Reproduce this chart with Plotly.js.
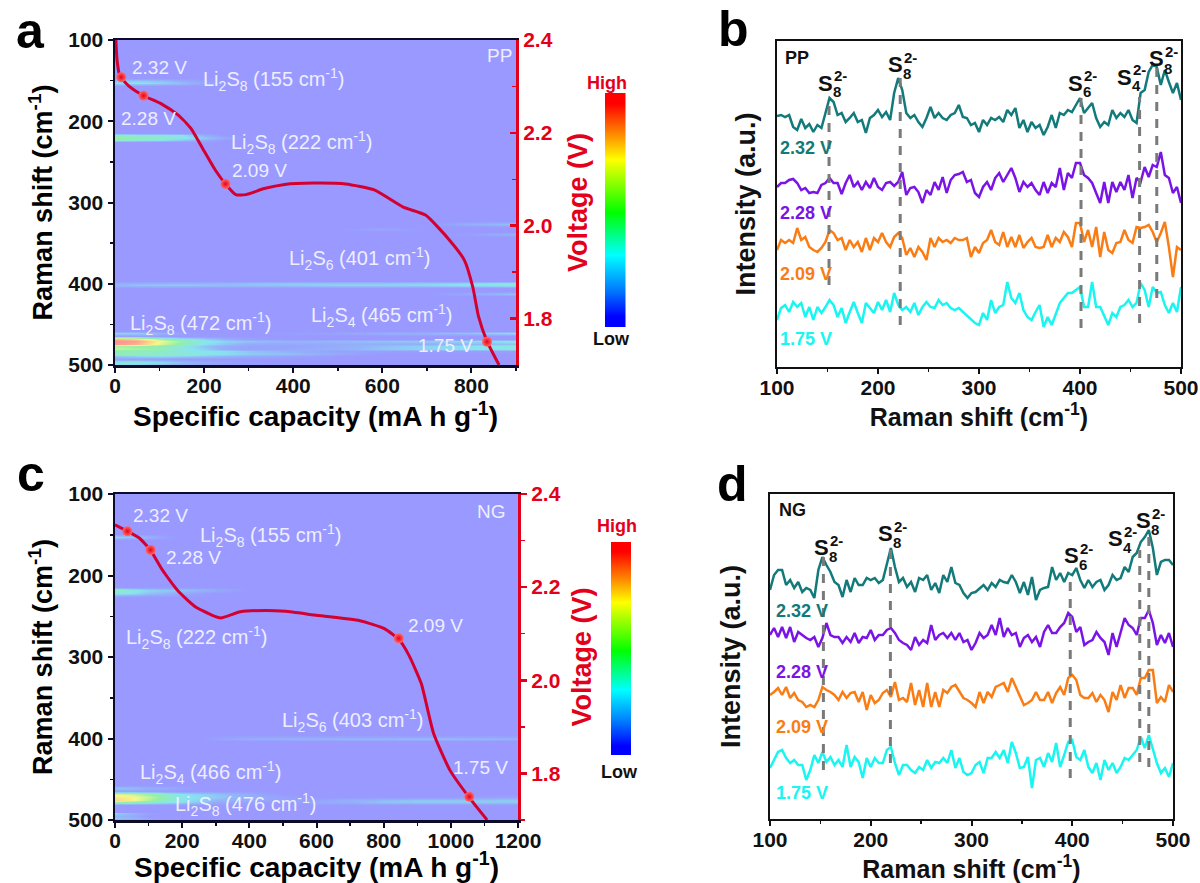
<!DOCTYPE html>
<html><head><meta charset="utf-8">
<script src="https://cdn.plot.ly/plotly-3.0.1.min.js"></script>
<style>html,body{margin:0;padding:0;background:#fff}#chart{width:1200px;height:883px}</style>
</head><body><div id="chart"></div>
<script>
// ---------- panel a / c : discharge curves (capacity mA h/g, voltage V)
const capCurveA=[2,4.6,11,32,64,105,142,170,197,225,248,271,294,335,381,445,518,582,647,697,748,784,803,816,835,862];
const voltCurveA=[2.4,2.357,2.322,2.30,2.28,2.262,2.238,2.21,2.166,2.12,2.09,2.067,2.067,2.08,2.089,2.092,2.09,2.077,2.04,2.023,1.972,1.926,1.868,1.804,1.751,1.70];
const capDotsA=[14,64,248,835];
const voltDots=[2.32,2.28,2.09,1.75];
const capCurveC=[0,37,73,106,141,190,239,288,315,373,447,508,594,729,802,845,875,912,949,998,1055,1108];
const voltCurveC=[2.334,2.32,2.305,2.279,2.237,2.19,2.158,2.14,2.134,2.147,2.15,2.148,2.14,2.128,2.111,2.088,2.054,1.993,1.885,1.806,1.748,1.70];
const capDotsC=[37,106,845,1055];

// ---------- panel a / c : contour maps (normalised intensity)
const capGridA=[0,50,100,150,200,250,300,400,500,600,700,800,900];
const shiftRowsA=[100,147,150,153,156,214,217,220,223,226,323,326.5,330,333,336,339,342,396,399,402,405,409,412,415,458,461,464,468,471,474,477,480,483,486,489,492,496,500];
const zA=[
[0,0,0,0,0,0,0,0,0,0,0,0,0],
[0,0,0,0,0,0,0,0,0,0,0,0,0],
[.2,.25,.2,.12,.05,0,0,0,0,0,0,0,0],
[.28,.3,.25,.18,.08,.02,0,0,0,0,0,0,0],
[0,0,0,0,0,0,0,0,0,0,0,0,0],
[0,0,0,0,0,0,0,0,0,0,0,0,0],
[.45,.35,.35,.3,.12,0,0,0,0,0,0,0,0],
[.5,.45,.4,.33,.22,.08,0,0,0,0,0,0,0],
[.42,.35,.3,.2,.1,0,0,0,0,0,0,0,0],
[0,0,0,0,0,0,0,0,0,0,0,0,0],
[0,0,0,0,0,0,0,0,0,0,0,0,0],
[0,0,0,0,0,0,0,0,0,0,0,.12,.2],
[0,0,0,0,0,0,0,0,0,0,0,0,0],
[0,0,0,0,0,0,0,0,0,.08,0,0,0],
[0,0,0,0,0,0,0,0,0,0,0,0,0],
[0,0,0,0,0,0,0,0,0,0,0,.04,.15],
[0,0,0,0,0,0,0,0,0,0,0,0,0],
[0,0,0,0,0,0,0,0,0,0,0,0,0],
[.1,.12,.13,.14,.14,.15,.18,.2,.2,.2,.22,.25,.32],
[.15,.2,.22,.22,.2,.18,.2,.22,.25,.25,.27,.32,.38],
[0,0,0,0,0,0,0,0,0,0,0,0,0],
[0,0,0,0,0,0,0,0,0,0,0,0,0],
[0,0,0,0,0,0,0,0,0,0,0,.1,.2],
[0,0,0,0,0,0,0,0,0,0,0,0,0],
[0,0,0,0,0,0,0,0,0,0,0,0,0],
[.25,.25,.15,.05,0,0,0,.03,.06,.12,.15,.2,.3],
[.05,.05,.03,0,0,0,0,0,0,0,0,0,0],
[.9,.8,.55,.35,.25,.12,.05,0,0,0,0,0,0],
[1,.95,.7,.5,.35,.25,.2,.15,.17,.2,.22,.28,.32],
[.98,.9,.65,.45,.3,.2,.1,.08,.1,.12,.12,.15,.2],
[.55,.5,.45,.35,.2,.1,.05,.05,.1,.18,.25,.3,.35],
[.6,.55,.5,.35,.25,.1,.05,.08,.12,.2,.25,.3,.35],
[.4,.4,.38,.33,.3,.28,.2,.12,.05,.05,.03,.03,.03],
[.48,.45,.42,.38,.33,.28,.22,.18,.08,0,0,0,0],
[.2,.25,.28,.25,.2,.15,.1,.05,0,0,0,0,0],
[.05,.05,.03,0,0,0,0,0,0,0,0,0,0],
[.35,.35,.28,.18,.1,.05,.02,0,0,0,0,0,0],
[.25,.22,.15,.1,.05,0,0,0,0,0,0,0,0]];
const capGridC=[0,50,100,150,200,250,300,400,500,600,700,800,900,1000,1100,1200];
const shiftRowsC=[100,149,153,157,214,218,222,226,396,400,403,457,461,465,468,472,475,478,482,490,492,495,498,500];
const zC=[
[0,0,0,0,0,0,0,0,0,0,0,0,0,0,0,0],
[0,0,0,0,0,0,0,0,0,0,0,0,0,0,0,0],
[.25,.22,.15,.05,0,0,0,0,0,0,0,0,0,0,0,0],
[0,0,0,0,0,0,0,0,0,0,0,0,0,0,0,0],
[0,0,0,0,0,0,0,0,0,0,0,0,0,0,0,0],
[.45,.35,.25,.22,.2,.15,.1,0,0,0,0,0,0,0,0,0],
[.35,.3,.2,.15,.1,.05,0,0,0,0,0,0,0,0,0,0],
[0,0,0,0,0,0,0,0,0,0,0,0,0,0,0,0],
[0,0,0,0,0,0,0,0,0,0,0,0,0,0,0,0],
[0,0,0,0,0,0,.05,.12,.14,.15,.16,.16,.18,.17,.16,.15],
[0,0,0,0,0,0,0,0,0,0,0,0,0,0,0,0],
[0,0,0,0,0,0,0,0,0,0,0,0,0,0,0,0],
[.2,.18,.12,.1,.05,0,0,0,0,0,0,0,0,0,0,0],
[.05,.05,.03,.02,0,0,0,0,0,0,0,0,0,0,0,0],
[.65,.6,.5,.4,.3,.25,.2,.1,0,0,0,0,0,0,0,0],
[.75,.72,.6,.45,.32,.28,.22,.12,.05,0,0,0,0,0,.05,.05],
[.8,.72,.55,.4,.32,.25,.15,.1,.05,.05,.12,.16,.2,.2,.2,.22],
[.5,.45,.4,.33,.28,.2,.1,.05,0,.08,.12,.2,.22,.22,.22,.22],
[0,0,0,0,0,0,0,0,0,0,0,0,0,0,0,0],
[0,0,0,0,0,0,0,0,0,0,0,0,0,0,0,0],
[.25,.15,.05,0,0,0,0,0,0,0,0,0,0,0,0,0],
[.15,.1,0,0,0,0,0,0,0,0,0,0,0,0,0,0],
[.2,.15,.05,0,0,0,0,0,0,0,0,0,0,0,0,0],
[0,0,0,0,0,0,0,0,0,0,0,0,0,0,0,0]];

// ---------- panel b / d : Raman spectra (arbitrary intensity, common x)
const ramanX=[100,104,108,112,116,120,124,128,132,136,140,144,148,152,156,160,164,168,172,176,180,184,188,192,196,200,204,208,212,216,220,224,228,232,236,240,244,248,252,256,260,264,268,272,276,280,284,288,292,296,300,304,308,312,316,320,324,328,332,336,340,344,348,352,356,360,364,368,372,376,380,384,388,392,396,400,404,408,412,416,420,424,428,432,436,440,444,448,452,456,460,464,468,472,476,480,484,488,492,496,500];
const ppV232=[251,252,250,252,240,237,248,239,243,235,242,239,254,269,265,252,254,245,249,254,245,247,234,249,252,257,250,255,247,274,289,277,254,249,252,245,240,249,260,249,254,249,247,252,254,262,250,249,242,244,235,247,242,249,247,250,245,257,252,259,239,247,235,245,239,242,232,240,252,239,254,252,257,255,262,269,254,259,264,249,240,245,242,257,249,254,250,257,247,244,274,277,295,302,300,282,297,285,274,284,267];
const ppV228=[180,184,184,187,188,184,177,179,174,175,174,182,184,189,184,184,173,184,192,180,185,177,185,179,189,180,177,184,185,181,185,195,172,179,180,175,164,177,172,185,177,190,174,187,192,193,195,185,187,174,170,180,185,177,189,194,185,192,199,189,175,185,180,184,177,172,185,174,184,180,199,177,194,189,204,204,192,189,184,174,164,185,164,185,175,185,177,192,169,189,185,200,190,202,200,215,192,189,174,180,164];
const ppV209=[117,127,124,127,124,139,127,130,120,117,115,119,125,137,134,127,129,117,127,120,125,115,129,117,129,125,134,125,120,130,134,129,112,119,110,120,115,107,129,120,129,125,127,124,129,127,127,129,110,120,114,124,127,137,125,122,135,120,130,120,132,119,125,129,120,119,120,132,120,129,125,135,130,120,144,144,125,137,120,140,110,135,117,114,124,125,137,127,124,140,139,140,142,135,125,134,145,120,90,120,117];
const ppV175=[47,59,62,55,65,60,64,50,60,47,60,54,60,67,62,50,59,44,55,65,54,44,64,59,54,65,57,67,55,74,62,57,60,55,64,52,60,65,60,59,67,62,64,59,57,59,55,52,47,44,42,54,47,67,54,60,62,85,69,64,74,57,50,47,55,62,40,50,42,54,64,69,74,74,77,80,60,60,85,60,60,50,42,54,50,60,62,67,60,64,84,77,60,80,74,75,62,54,64,55,80];
const ngV232=[229,244,249,249,234,239,231,237,227,231,229,221,249,262,254,247,237,234,222,239,227,241,234,234,241,239,241,236,239,256,271,252,237,241,232,237,227,241,239,244,229,236,226,244,237,252,236,234,226,221,226,227,231,234,229,236,232,239,237,236,244,237,226,237,224,242,219,229,231,232,252,239,246,237,246,244,251,239,231,239,232,237,239,229,234,244,239,241,252,247,262,266,277,282,289,271,244,257,259,259,254];
const ngV228=[184,191,182,192,181,192,177,187,184,181,179,182,172,181,196,184,182,182,176,182,177,186,176,182,181,189,179,184,184,189,191,186,179,176,174,169,182,174,179,176,194,179,184,186,181,186,179,186,177,179,169,176,186,181,184,194,184,201,182,191,184,186,172,181,184,177,182,172,187,194,186,186,192,196,206,202,187,192,174,177,179,187,181,177,164,186,172,186,201,194,191,184,201,201,209,196,174,184,176,186,172];
const ngV209=[124,127,131,124,132,121,126,119,117,112,114,112,119,132,129,127,124,119,127,121,126,127,117,127,109,124,116,119,126,129,122,137,119,121,117,136,114,129,112,136,112,127,112,129,126,132,134,127,121,119,116,112,127,116,127,122,132,134,136,127,141,132,122,114,116,119,127,119,119,127,116,126,132,124,141,144,139,124,121,121,126,117,124,119,107,127,119,134,121,131,131,124,141,141,149,149,116,122,117,134,127];
const ngV175=[51,59,67,69,61,56,59,54,54,39,49,64,56,67,57,62,54,59,52,74,52,62,57,41,61,52,61,56,56,69,72,56,44,54,54,49,46,52,49,59,51,57,56,61,56,69,51,61,47,44,46,54,57,46,61,61,67,61,69,56,77,66,51,52,62,31,59,61,52,66,57,76,52,64,77,79,62,59,69,52,46,56,39,59,49,56,46,52,61,59,64,69,82,71,84,71,56,46,51,42,56];
const voltLabels=["2.32 V","2.28 V","2.09 V","1.75 V"];
const traceColors=["#127a7a","#7a14e6","#f97d14","#19f5f0"];
// dashed peak guides: position and intensity span
const guideB={x:[151.5,222,401,459,476],lo:[82,42,39,44,69],hi:[267,289,270,270,304]};
const guideD={x:[153,219.5,398,467,476],lo:[49,56,41,57,52],hi:[266,272,246,269,289]};
// colour-bar levels
const barLevels=[[0],[.1],[.2],[.3],[.4],[.5],[.6],[.7],[.8],[.9],[1]];

// ---------- layout helpers
const W=1200,H=883;
const dx=(a,b)=>[a/W,b/W], dy=(t,b)=>[1-b/H,1-t/H];
const px=x=>x/W, py=y=>1-y/H;
const FF="Liberation Sans, Arial, sans-serif";
const RED="#e3001b", AX="#0c0c2a";
const mapScale=[[0,"#9999ff"],[.15,"#93b5f8"],[.3,"#88e3f0"],[.5,"#93f0a5"],[.7,"#f7f78a"],[.85,"#ffc48c"],[1,"#ff8f8f"]];
const barScale=[[0,"#0000ff"],[.13,"#0080ff"],[.29,"#00ffff"],[.49,"#00ff00"],[.74,"#ffff00"],[.87,"#ff8000"],[1,"#ff0000"]];
const tfont={family:FF,size:21,color:"#111",weight:700};
const ann=[];
function T(x,y,text,o={}){ann.push(Object.assign({xref:"paper",yref:"paper",x:px(x),y:py(y),text,showarrow:false,xanchor:"center",yanchor:"middle",font:{family:FF,size:o.size||19,color:o.color||"#eeeeff",weight:o.weight||400}},o.extra||{}));}
function L(n,w){return `Li<sub>2</sub>S<sub>${n}</sub> (${w} cm<sup>-1</sup>)`;}
const LI=20;
function S(cx,y,n){
  T(cx-7,y,"S",{size:22,color:"#111",weight:700});
  T(cx+5,y+9,String(n),{size:15,color:"#111",weight:700});
  T(cx+8,y-7,"2-",{size:15,color:"#111",weight:700});
}
// panel a labels
[[159,67,"2.32 V"],[148,119,"2.28 V"],[259,170,"2.09 V"],[445,345,"1.75 V"],[499,55,"PP"]].forEach(a=>T(a[0],a[1],a[2]));
[[273,80,8,155],[301,142,8,222],[359,258,6,401],[381,316,4,465],[200,323,8,472]].forEach(a=>T(a[0],a[1],L(a[2],a[3]),{size:LI}));
// panel c labels
[[160,515,"2.32 V"],[193,557,"2.28 V"],[435,625,"2.09 V"],[480,767,"1.75 V"],[492,511,"NG"]].forEach(a=>T(a[0],a[1],a[2]));
[[270,535,8,155],[196,637,8,222],[352,720,6,403],[210,772,4,466],[246,804,8,476]].forEach(a=>T(a[0],a[1],L(a[2],a[3]),{size:LI}));
// panel letters
[[30,31,"a"],[733,29,"b"],[31,474,"c"],[732,484,"d"]].forEach(a=>T(a[0],a[1],a[2],{size:50,color:"#000",weight:700}));
// panels b,d labels
T(797,58,"PP",{size:18,color:"#111",weight:700});T(792,510,"NG",{size:18,color:"#111",weight:700});
[[832,83,8],[902,65,8],[1082,83,6],[1131,77,4],[1163,59,8]].forEach(a=>S(a[0],a[1],a[2]));
[[828,547,8],[892,533,8],[1078,555,6],[1122,538,4],[1150,520,8]].forEach(a=>S(a[0],a[1],a[2]));
[148,213,274,339].forEach((y,i)=>T(806,y,voltLabels[i],{size:18,color:traceColors[i],weight:700}));
[611,672,727,793].forEach((y,i)=>T(802,y,voltLabels[i],{size:18,color:traceColors[i],weight:700}));
// colour-bar labels
T(607,83,"High",{size:18,color:RED,weight:700});T(611,339,"Low",{size:18,color:"#111",weight:700});
T(617,526,"High",{size:18,color:RED,weight:700});T(619,772,"Low",{size:18,color:"#111",weight:700});

function mapX(dom,rng,title,ya){return {domain:dom,anchor:ya,range:rng,dtick:200,tick0:0,ticks:"outside",ticklen:5,tickwidth:2,tickcolor:AX,ticklabelstandoff:-5,showline:true,linewidth:2.5,linecolor:AX,mirror:true,showgrid:false,zeroline:false,tickfont:tfont,minor:{ticks:"outside",dtick:100,ticklen:3,tickwidth:1.5,tickcolor:AX},
  title:{text:title,standoff:0,font:{family:FF,size:28,color:"#000",weight:700}}};}
function mapY(dom,xa){return {domain:dom,anchor:xa,range:[500,100],dtick:100,tick0:100,ticks:"outside",ticklen:5,tickwidth:2,tickcolor:AX,showline:true,linewidth:2.5,linecolor:AX,showgrid:false,zeroline:false,tickfont:tfont,minor:{ticks:"outside",dtick:50,ticklen:3,tickwidth:1.5,tickcolor:AX},
  title:{text:"Raman shift (cm<sup>-1</sup>)",standoff:8,font:{family:FF,size:27,color:"#000",weight:700}}};}
function voltY(ov,xa,ticks,so){return {overlaying:ov,anchor:xa,side:"right",range:[1.7,2.4],tick0:1.8,dtick:.2,tickformat:".1f",ticks,ticklen:6,tickwidth:2.5,tickcolor:RED,showline:true,linewidth:3,linecolor:RED,showgrid:false,zeroline:false,tickfont:{family:FF,size:21,color:RED,weight:700},minor:{ticks,dtick:.1,ticklen:4,tickwidth:1.5,tickcolor:RED},
  title:{text:"Voltage (V)",standoff:so,font:{family:FF,size:27,color:RED,weight:700}}};}
function specX(dom,ya){return {domain:dom,anchor:ya,range:[100,500],dtick:100,tick0:100,ticks:"outside",ticklen:5,tickwidth:2,tickcolor:"#111",ticklabelstandoff:-4,showline:true,linewidth:2,linecolor:"#111",mirror:true,showgrid:false,zeroline:false,tickfont:tfont,minor:{ticks:"outside",dtick:50,ticklen:3,tickwidth:1.5,tickcolor:"#111"},
  title:{text:"Raman shift (cm<sup>-1</sup>)",standoff:2,font:{family:FF,size:25,color:"#111",weight:700}}};}
function specY(dom,xa,top,so){return {domain:dom,anchor:xa,range:[0,top],showticklabels:false,ticks:"",showline:true,linewidth:2,linecolor:"#111",mirror:true,showgrid:false,zeroline:false,
  title:{text:"Intensity (a.u.)",standoff:so,font:{family:FF,size:27,color:"#111",weight:700}}};}
const off={visible:false,fixedrange:true};
const layout={width:W,height:H,margin:{l:0,r:0,t:0,b:0},paper_bgcolor:"#fff",plot_bgcolor:"#fff",showlegend:false,annotations:ann,
  xaxis:mapX(dx(115,516),[0,900],"Specific capacity (mA h g<sup>-1</sup>)","y"),
  yaxis:mapY(dy(40,365),"x"),
  yaxis2:voltY("y","x","inside",17),
  xaxis2:specX(dx(777,1181),"y3"),
  yaxis3:specY(dy(41,367),"x2",326,12),
  xaxis3:mapX(dx(115,518),[0,1200],"Specific capacity (mA h g<sup>-1</sup>)","y4"),
  yaxis4:mapY(dy(494,820),"x3"),
  yaxis5:voltY("y4","x3","outside",13),
  xaxis4:specX(dx(770,1173),"y6"),
  yaxis6:specY(dy(494,819),"x4",325,20),
  xaxis5:Object.assign({domain:dx(605,625.5),anchor:"y7"},off),
  yaxis7:Object.assign({domain:dy(93,327),anchor:"x5"},off),
  xaxis6:Object.assign({domain:dx(611,631),anchor:"y8"},off),
  yaxis8:Object.assign({domain:dy(542,755),anchor:"x6"},off)
};
const map=(x,y,z,xa,ya)=>({type:"heatmap",x,y,z,xaxis:xa,yaxis:ya,colorscale:mapScale,zmin:0,zmax:1,zsmooth:"best",showscale:false,hoverinfo:"skip"});
const curve=(x,y,ya,xa)=>({type:"scatter",mode:"lines",x,y,xaxis:xa,yaxis:ya,line:{color:"#d4002f",width:3,shape:"spline",smoothing:.5},hoverinfo:"skip"});
const dots=(x,y,ya,xa)=>({type:"scatter",mode:"markers",x,y,xaxis:xa,yaxis:ya,marker:{size:10,color:"#ff6a6a",gradient:{type:"radial",color:"#e8001c"},line:{width:0}},hoverinfo:"skip"});
const bar=(xa,ya)=>({type:"heatmap",z:barLevels,xaxis:xa,yaxis:ya,colorscale:barScale,zmin:0,zmax:1,zsmooth:"best",showscale:false,hoverinfo:"skip"});
const spec=(y,c,xa,ya)=>({type:"scatter",mode:"lines",x:ramanX,y,xaxis:xa,yaxis:ya,line:{color:c,width:2.5},hoverinfo:"skip"});
const guides=(g,xa,ya)=>g.x.map((x,i)=>({type:"scatter",mode:"lines",x:[x,x],y:[g.lo[i],g.hi[i]],xaxis:xa,yaxis:ya,line:{color:"#7a7a7a",width:3,dash:"9px,8px"},hoverinfo:"skip"}));
const data=[
 map(capGridA,shiftRowsA,zA,"x","y"),
 curve(capCurveA,voltCurveA,"y2","x"),dots(capDotsA,voltDots,"y2","x"),
 map(capGridC,shiftRowsC,zC,"x3","y4"),
 curve(capCurveC,voltCurveC,"y5","x3"),dots(capDotsC,voltDots,"y5","x3"),
 spec(ppV232,traceColors[0],"x2","y3"),spec(ppV228,traceColors[1],"x2","y3"),spec(ppV209,traceColors[2],"x2","y3"),spec(ppV175,traceColors[3],"x2","y3"),
 ...guides(guideB,"x2","y3"),
 spec(ngV232,traceColors[0],"x4","y6"),spec(ngV228,traceColors[1],"x4","y6"),spec(ngV209,traceColors[2],"x4","y6"),spec(ngV175,traceColors[3],"x4","y6"),
 ...guides(guideD,"x4","y6"),
 bar("x5","y7"),bar("x6","y8")
];
Plotly.newPlot("chart",data,layout,{displayModeBar:false,staticPlot:true});
</script></body></html>
